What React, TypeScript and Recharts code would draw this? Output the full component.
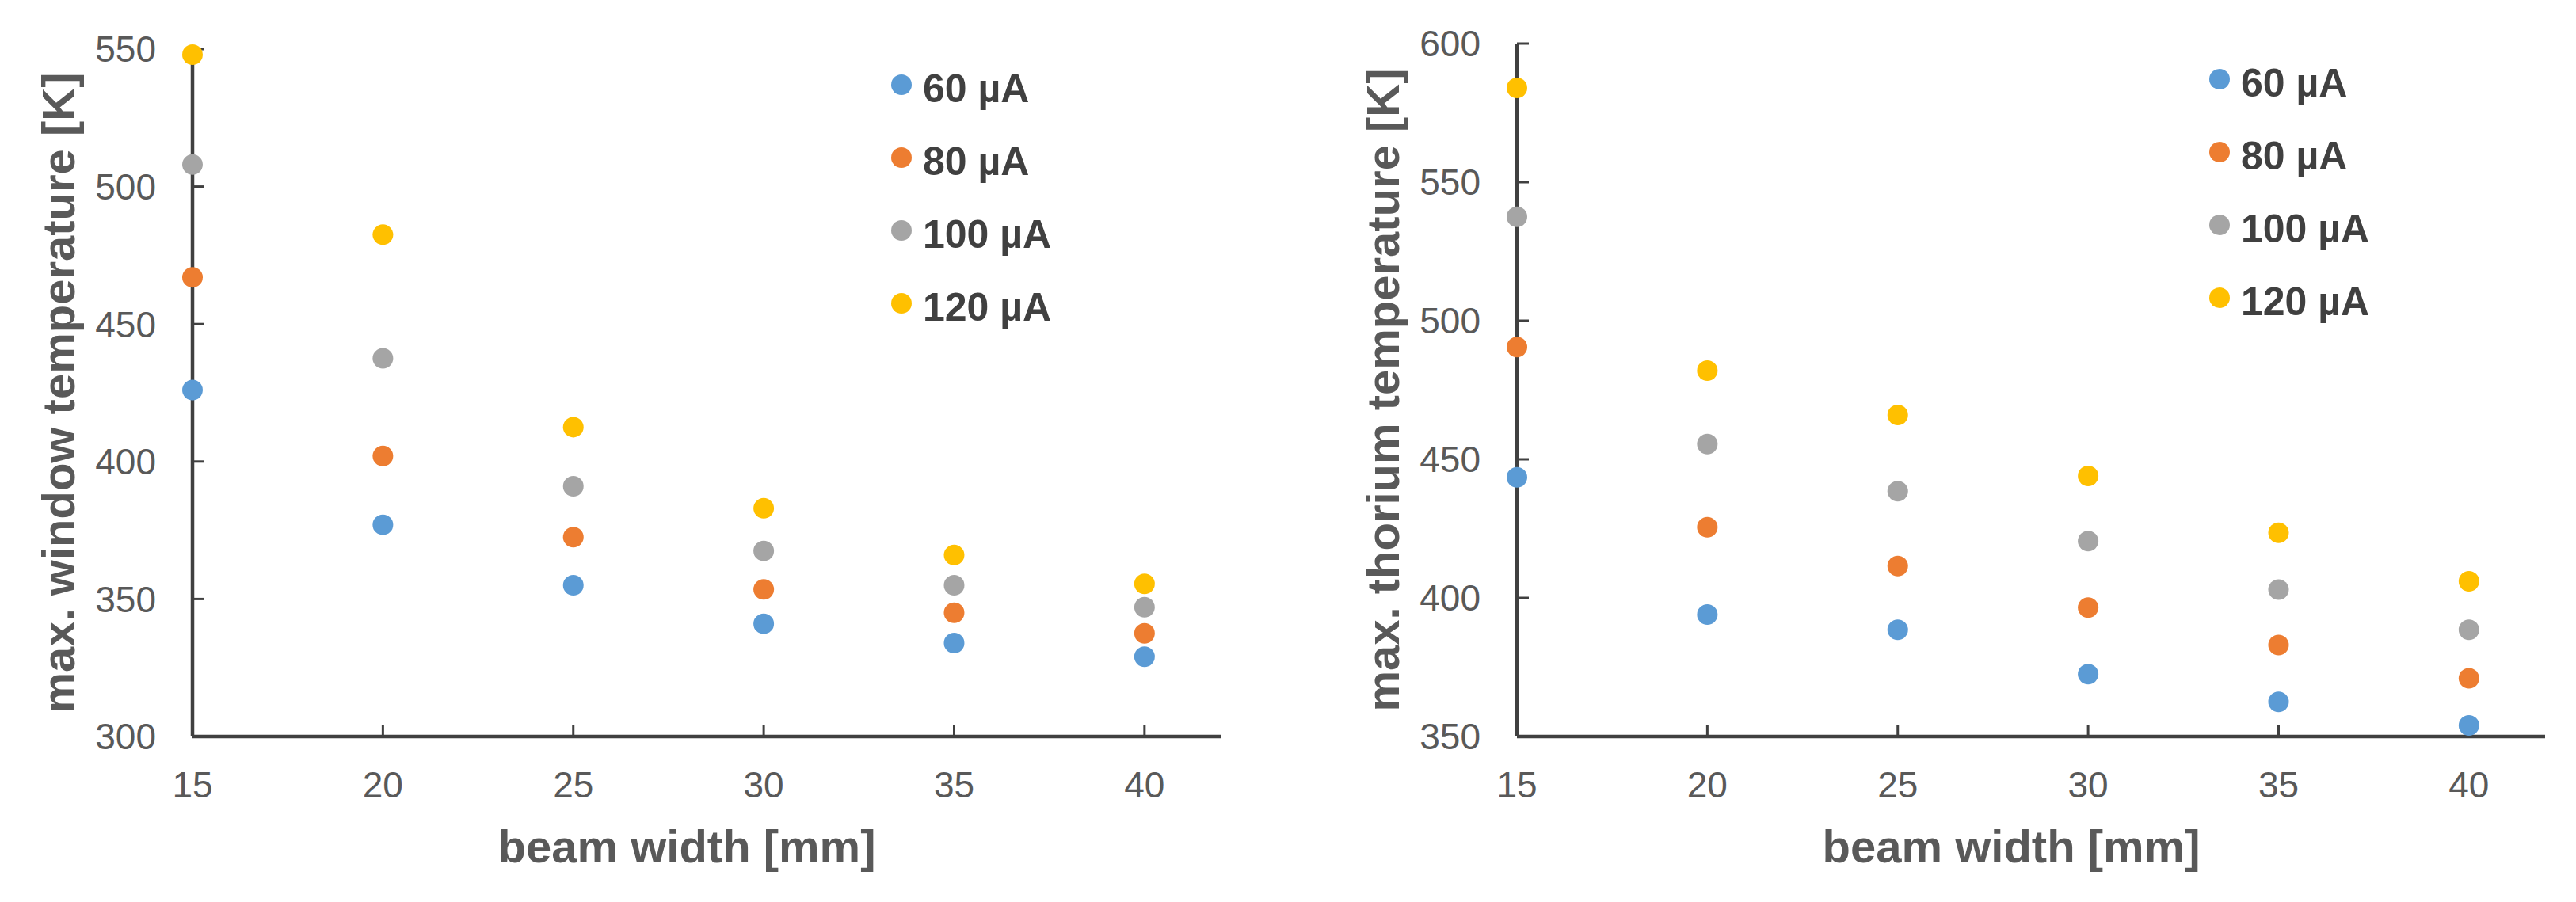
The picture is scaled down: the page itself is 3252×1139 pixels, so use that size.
import React from 'react';
import { ScatterChart, Scatter, XAxis, YAxis, Legend } from 'recharts';

// beam width categories (mm) and series labels
const beamWidths = [15, 20, 25, 30, 35, 40];
const currents = ['60 µA', '80 µA', '100 µA', '120 µA'];
const colors = ['#5B9BD5', '#ED7D31', '#A5A5A5', '#FFC000'];

// max. window temperature [K]
const window60 = [426, 377, 355, 341, 334, 329];
const window80 = [467, 402, 372.5, 353.5, 345, 337.5];
const window100 = [508, 437.5, 391, 367.5, 355, 347];
const window120 = [548, 482.5, 412.5, 383, 366, 355.5];
const windowTicks = [300, 350, 400, 450, 500, 550];

// max. thorium temperature [K]
const thorium60 = [443.5, 394, 388.5, 372.5, 362.5, 354];
const thorium80 = [490.5, 425.5, 411.5, 396.5, 383, 371];
const thorium100 = [537.5, 455.5, 438.5, 420.5, 403, 388.5];
const thorium120 = [584, 482, 466, 444, 423.5, 406];
const thoriumTicks = [350, 400, 450, 500, 550, 600];

const toPoints = (values: number[]) => beamWidths.map((x, i) => ({ x, y: values[i] }));

const FONT = '"Liberation Sans", Arial, sans-serif';
const axisLine = { stroke: '#404040', strokeWidth: 4.5 };
const tickLine = { stroke: '#404040', strokeWidth: 3 };
const tickStyle = { fill: '#595959', fontSize: 46, fontFamily: FONT };

const renderDot = (props: any) => <circle cx={props.cx} cy={props.cy} r={13} fill={props.fill} />;

const xTitle = (props: any) => {
  const { x, y, width } = props.viewBox;
  return (
    <text
      x={x + width / 2 - 25}
      y={y + 138}
      textAnchor="middle"
      dominantBaseline="central"
      fill="#595959"
      fontSize={58}
      fontWeight="bold"
      fontFamily={FONT}
    >
      beam width [mm]
    </text>
  );
};

const yTitle = (text: string) => (props: any) => {
  const { x, y, width, height } = props.viewBox;
  const cx = x + width - 170;
  const cy = y + height / 2;
  return (
    <text
      x={cx}
      y={cy}
      transform={`rotate(-90, ${cx}, ${cy})`}
      textAnchor="middle"
      dominantBaseline="central"
      fill="#595959"
      fontSize={58}
      fontWeight="bold"
      fontFamily={FONT}
    >
      {text}
    </text>
  );
};

const renderLegend = () => (
  <div style={{ fontFamily: FONT }}>
    {currents.map((c, i) => (
      <div key={c} style={{ display: 'flex', alignItems: 'center', height: 92 }}>
        <span
          style={{
            width: 26,
            height: 26,
            borderRadius: '50%',
            background: colors[i],
            marginRight: 14,
            position: 'relative',
            top: -5,
          }}
        />
        <span style={{ fontSize: 50, fontWeight: 'bold', color: '#404040', lineHeight: 1 }}>{c}</span>
      </div>
    ))}
  </div>
);

function Panel({ left, top, right, yWidth, yDomain, yTicks, title, series, legendLeft, legendTop }: any) {
  return (
    <div style={{ position: 'absolute', left, top: 0 }}>
      <ScatterChart width={1626} height={1139} margin={{ top, right, bottom: 0, left: 0 }}>
        <XAxis
          type="number"
          dataKey="x"
          domain={[15, 42]}
          ticks={beamWidths}
          height={209}
          tickSize={-15}
          tickMargin={59}
          tick={tickStyle}
          axisLine={axisLine}
          tickLine={tickLine}
          label={xTitle}
        />
        <YAxis
          type="number"
          dataKey="y"
          domain={yDomain}
          ticks={yTicks}
          width={yWidth}
          tickSize={-15}
          tickMargin={61}
          tick={tickStyle}
          axisLine={axisLine}
          tickLine={tickLine}
          label={yTitle(title)}
        />
        <Legend
          layout="vertical"
          align="center"
          verticalAlign="middle"
          content={renderLegend}
          wrapperStyle={{ left: legendLeft, top: legendTop, width: 'auto' }}
        />
        {series.map((values: number[], i: number) => (
          <Scatter
            key={currents[i]}
            name={currents[i]}
            data={toPoints(values)}
            fill={colors[i]}
            shape={renderDot}
            isAnimationActive={false}
          />
        ))}
      </ScatterChart>
    </div>
  );
}

export default function App() {
  return (
    <div
      style={{
        position: 'absolute',
        left: 0,
        top: 0,
        width: 3252,
        height: 1139,
        background: '#ffffff',
        fontFamily: FONT,
      }}
    >
      <Panel
        left={0}
        top={62}
        right={85}
        yWidth={243}
        yDomain={[300, 550]}
        yTicks={windowTicks}
        title="max. window temperature [K]"
        series={[window60, window80, window100, window120]}
        legendLeft={1125}
        legendTop={66}
      />
      <Panel
        left={1626}
        top={55}
        right={39}
        yWidth={289}
        yDomain={[350, 600]}
        yTicks={thoriumTicks}
        title="max. thorium temperature [K]"
        series={[thorium60, thorium80, thorium100, thorium120]}
        legendLeft={1163}
        legendTop={59}
      />
    </div>
  );
}
